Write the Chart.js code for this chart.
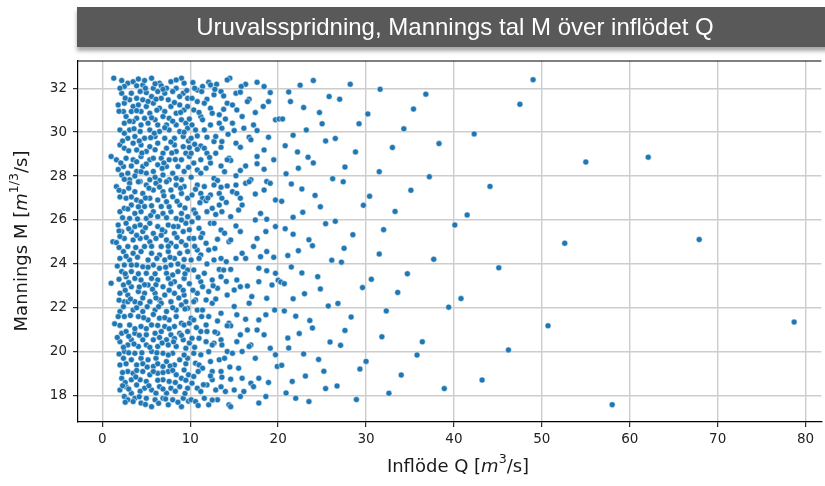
<!DOCTYPE html>
<html lang="sv">
<head>
    <meta charset="UTF-8">
    <title>Uruvalsspridning</title>
    <script src="https://cdn.jsdelivr.net/npm/chart.js"></script>
    <style>
        body { margin: 0; background: #fff; }
        .wrap { position: relative; width: 825px; height: 486px; overflow: hidden; }
        .banner { position: absolute; left: 77px; top: 7px; width: 756px; height: 40px; background: #595959; color: #fff;
                  font: 24px "Liberation Sans", Arial, sans-serif; line-height: 40px; text-align: center;
                  box-shadow: 0 4px 4px rgba(0,0,0,0.35); }
        canvas { position: absolute; left: 0; top: 0; }
    </style>
</head>
<body>
<div class="wrap">
    <canvas id="chart" width="825" height="486"></canvas>
    <div class="banner">Uruvalsspridning, Mannings tal M över inflödet Q</div>
</div>
<script>
// [Q, M] pairs, grouped by region
const ptsLowQTop = [[1.3,32.46],[2.9,32.23],[3.5,32.30],[4.6,32.15],[4.8,32.35],[5.6,32.46],[6.5,32.23],[6.7,32.11],[7.8,32.30],[9.0,32.46],[9.3,32.23],[2.5,32.08],[3.9,32.11],[5.8,32.00],[7.3,32.00],[8.4,32.00],
  [2.2,31.77],[3.3,31.77],[4.3,31.85],[5.0,31.80],[6.3,31.85],[7.1,31.77],[8.0,31.85],[9.2,31.77],[3.1,31.47],[3.9,31.54],[4.6,31.47],[5.6,31.62],[6.7,31.54],[7.5,31.47],[8.8,31.62],[9.7,31.54],
  [1.8,31.24],[2.5,31.32],[3.5,31.17],[4.1,31.24],[5.0,31.17],[5.8,31.32],[6.5,31.09],[7.8,31.17],[8.8,31.24],[9.3,31.01],[2.4,30.94],[3.3,30.94],[4.4,30.94],[5.4,30.86],[7.1,30.94],[8.4,30.86],[9.7,31.17],
  [2.7,30.71],[3.9,30.63],[4.8,30.63],[6.0,30.56],[6.9,30.71],[7.6,30.63],[9.0,30.56],[2.5,30.41],[3.5,30.48],[4.4,30.33],[5.2,30.41],[6.3,30.33],[7.3,30.33],[8.4,30.33],[9.5,30.41],
  [2.0,30.10],[3.1,30.10],[4.3,30.03],[5.4,30.10],[6.5,30.03],[7.6,30.10],[8.8,30.03],[9.7,30.18],[2.9,29.72],[3.7,29.80],[4.8,29.72],[6.0,29.80],[7.1,29.72],[8.2,29.72],[9.2,29.80],
  [2.0,29.42],[2.5,29.27],[3.5,29.50],[4.4,29.42],[5.4,29.34],[6.3,29.50],[7.3,29.27],[8.2,29.42],[9.2,29.34],[3.9,29.19],[5.0,29.12],[6.9,29.04],[8.4,29.12],[9.5,29.04],
  [1.0,28.89],[1.6,28.74],[2.7,28.81],[3.5,28.74],[4.4,28.89],[5.4,28.74],[5.8,28.81],[6.7,28.81],[7.6,28.74],[9.0,28.74],[9.9,28.89],[2.4,28.43],[3.3,28.46],[4.6,28.43],[6.3,28.51],[7.3,28.43],[8.6,28.43],
  [2.2,28.05],[2.9,28.13],[3.9,28.21],[5.0,28.13],[5.8,28.21],[6.9,28.05],[8.0,28.13],[9.3,28.21],[3.1,27.83],[4.3,27.75],[5.4,27.83],[6.5,27.80],[7.6,27.83],[9.0,27.83]];

const ptsLowQMid = [[1.6,27.52],[3.1,27.67],[4.1,27.74],[5.0,27.59],[6.1,27.67],[7.3,27.74],[8.4,27.59],[9.3,27.52],[2.4,27.29],[3.7,27.29],[4.6,27.21],[5.8,27.36],[6.9,27.29],[7.8,27.36],[9.0,27.21],
  [2.7,26.99],[3.9,26.91],[4.4,26.83],[5.4,26.99],[6.3,26.91],[7.3,26.83],[8.0,27.06],[9.7,26.99],[3.3,26.68],[4.8,26.61],[6.7,26.61],[8.8,26.68],
  [2.0,26.38],[2.5,26.53],[3.7,26.30],[4.4,26.38],[5.8,26.38],[6.9,26.30],[7.8,26.38],[9.0,26.30],[3.1,26.07],[5.0,26.07],[6.3,26.15],[8.4,26.07],[9.7,26.15],
  [1.8,25.77],[2.7,25.85],[3.7,25.70],[4.3,25.77],[5.4,25.85],[6.3,25.70],[7.5,25.77],[8.6,25.70],[9.5,25.85],[2.2,25.47],[3.3,25.47],[4.6,25.47],[5.8,25.39],[7.1,25.47],[8.2,25.39],[9.2,25.47],
  [1.2,25.01],[1.6,24.97],[2.5,25.16],[3.5,25.09],[4.3,25.16],[5.4,25.01],[6.1,25.16],[7.3,25.09],[7.8,24.94],[9.0,25.01],[9.9,25.16],[2.9,24.79],[4.8,24.79],[6.7,24.79],[8.4,24.79],
  [2.4,24.56],[3.5,24.48],[4.4,24.56],[5.6,24.48],[6.5,24.41],[7.5,24.56],[8.8,24.48],[9.7,24.56],[2.0,24.25],[3.1,24.18],[5.2,24.18],[7.1,24.18],[8.2,24.25],
  [2.5,23.95],[3.9,23.95],[4.6,23.87],[5.8,23.95],[6.5,23.80],[7.8,23.95],[9.2,23.87],[2.2,23.65],[3.3,23.65],[5.0,23.57],[7.3,23.57],[8.6,23.65],[9.7,23.72],
  [1.0,23.12],[2.7,23.42],[3.7,23.34],[4.4,23.27],[5.6,23.34],[6.3,23.27],[7.5,23.34],[8.2,23.19],[9.3,23.34],[2.4,23.04],[3.3,22.96],[5.2,23.04],[6.9,22.96],[8.8,22.96],
  [2.0,22.66],[2.9,22.58],[4.1,22.74],[4.8,22.66],[6.0,22.66],[7.1,22.58],[8.2,22.66],[9.3,22.58],[2.5,22.28],[3.7,22.28],[5.4,22.28],[6.5,22.36],[7.8,22.28],[9.5,22.28]];

const ptsLowQBottom = [[2.9,22.28],[4.3,22.21],[5.4,22.28],[6.7,22.21],[7.8,22.28],[9.0,22.13],[2.0,21.83],[3.5,21.90],[4.6,21.83],[6.0,21.90],[7.3,21.83],[8.4,21.90],[9.7,21.98],
  [1.4,21.27],[2.5,21.60],[4.1,21.60],[5.2,21.45],[5.6,21.22],[6.5,21.53],[7.6,21.45],[9.0,21.30],[9.3,21.22],[3.1,21.22],[4.4,21.15],[7.1,21.15],[8.2,21.15],
  [2.2,20.84],[2.7,20.92],[3.7,20.84],[5.0,20.77],[6.0,20.84],[6.7,20.92],[7.8,20.77],[8.8,20.84],[9.7,20.92],[3.3,20.54],[4.6,20.54],[5.8,20.54],[7.3,20.54],[9.2,20.54],
  [2.0,20.46],[2.9,20.31],[4.1,20.24],[5.0,20.31],[6.3,20.24],[7.5,20.31],[8.4,20.24],[9.5,20.16],[2.5,20.01],[3.7,19.93],[5.6,20.01],[6.9,19.93],[8.0,19.93],
  [2.4,19.70],[3.3,19.63],[4.4,19.70],[5.2,19.63],[6.1,19.70],[7.3,19.55],[8.8,19.63],[9.7,19.70],[2.0,19.40],[3.9,19.40],[5.8,19.33],[6.9,19.33],[8.2,19.40],
  [2.9,19.10],[3.5,19.02],[4.6,19.10],[5.4,18.95],[6.3,19.02],[7.5,19.10],[8.4,18.95],[9.3,19.17],[2.2,18.79],[3.3,18.72],[4.3,18.72],[6.9,18.72],[9.0,18.79],
  [2.0,18.26],[2.7,18.41],[3.9,18.49],[4.8,18.34],[5.6,18.26],[6.5,18.41],[7.8,18.34],[8.8,18.41],[9.7,18.34],[3.3,18.11],[6.1,18.11],[7.3,18.11],
  [2.5,17.96],[2.9,17.81],[3.7,17.88],[4.4,17.66],[5.0,17.88],[6.0,17.81],[6.9,17.88],[8.0,17.81],[9.2,17.88],[3.5,17.73],[5.6,17.50],[7.5,17.58],[9.0,17.50]];

// dots in the gaps of the packed band below Q = 10
const ptsLowQFill = [[2.2,32.35],[4.1,32.42],[8.4,32.38],[6.0,32.20],[2.0,32.00],[4.9,32.00],[6.9,31.95],[9.6,31.90],
  [2.6,31.55],[5.2,31.40],[6.1,31.50],[8.2,31.35],[1.9,30.95],[3.9,30.98],[6.2,31.00],[8.9,30.90],
  [3.1,30.50],[5.6,30.65],[8.0,30.50],[9.9,30.60],[2.5,29.95],[3.6,30.15],[5.9,29.95],[7.1,30.20],[9.3,30.00],
  [2.3,29.60],[4.2,29.60],[5.5,29.75],[7.8,29.55],[9.8,29.60],[3.0,29.15],[4.5,29.05],[6.0,29.20],[7.9,29.05],[9.9,29.30],
  [2.1,28.60],[3.9,28.65],[5.0,28.55],[7.0,28.60],[8.3,28.75],[1.8,28.30],[4.4,28.20],[6.8,28.35],[9.8,28.40],
  [2.5,27.85],[3.7,28.00],[6.0,27.95],[8.4,27.90],[1.9,27.35],[3.0,27.45],[5.3,27.45],[6.5,27.50],[8.9,27.45],
  [2.0,27.05],[3.3,27.05],[4.9,27.00],[7.0,27.10],[8.5,26.85],[2.9,26.50],[4.1,26.60],[5.6,26.65],[7.6,26.60],[9.4,26.55],
  [2.3,26.10],[4.0,26.05],[5.5,26.20],[7.3,26.10],[9.0,26.00],[1.9,25.50],[3.0,25.60],[4.9,25.65],[6.8,25.55],[8.1,25.70],[9.9,25.55],
  [2.0,25.25],[3.9,25.30],[5.0,25.20],[6.7,25.30],[8.5,25.20],[1.9,24.75],[3.8,24.75],[5.6,24.80],[7.5,24.80],[9.5,24.85],
  [2.7,24.35],[4.0,24.30],[6.2,24.25],[7.7,24.30],[9.3,24.20],[1.7,23.90],[3.3,23.95],[5.2,23.85],[7.2,23.85],[8.6,24.00],
  [2.6,23.55],[4.1,23.55],[6.0,23.55],[8.0,23.50],[9.4,23.55],[1.9,23.30],[3.0,23.15],[4.8,23.05],[6.1,23.05],[7.8,23.10],[9.9,23.10],
  [2.6,22.80],[4.2,22.95],[5.7,22.85],[7.6,22.80],[9.2,22.80],[1.9,22.35],[3.2,22.40],[4.6,22.45],[6.1,22.45],[8.7,22.45],
  [2.4,22.05],[3.9,22.00],[5.1,22.05],[6.4,22.05],[8.0,22.00],[9.4,21.95],[1.8,21.60],[3.2,21.65],[4.7,21.55],[5.8,21.70],[7.1,21.55],[8.4,21.60],
  [2.0,21.20],[3.7,21.05],[5.0,21.05],[6.3,21.20],[7.6,21.05],[9.9,21.30],[1.7,20.65],[3.0,20.70],[4.2,20.75],[6.5,20.65],[8.2,20.60],[9.0,20.75],
  [2.4,20.20],[3.6,20.35],[5.4,20.20],[6.8,20.40],[8.1,20.45],[9.9,20.40],[1.9,19.90],[3.0,19.95],[4.5,19.95],[6.2,19.95],[7.5,19.85],[9.3,19.85],
  [2.7,19.45],[4.6,19.45],[5.1,19.30],[6.3,19.45],[7.7,19.35],[9.5,19.45],[2.3,19.05],[3.9,19.15],[5.8,19.10],[6.9,19.05],[8.0,19.15],[9.8,18.95],
  [2.6,18.60],[3.8,18.85],[5.0,18.65],[6.3,18.70],[7.6,18.65],[8.3,18.60],[9.5,18.70],[2.3,18.45],[3.0,18.30],[4.3,18.20],[5.3,18.45],[6.9,18.30],[8.3,18.20],[9.4,18.10],
  [2.6,17.70],[4.2,17.95],[4.9,17.60],[6.4,17.65],[7.2,17.85],[8.6,17.70],[9.8,17.75]];

const ptsMidQTop = [[14.5,32.46],[14.2,32.38],[10.3,32.26],[12.1,32.27],[12.3,32.15],[13.0,32.18],[11.4,32.08],[10.8,31.92],[11.3,31.85],[16.3,32.18],[15.8,32.08],[17.6,32.27],[18.4,32.08],[15.2,31.77],[15.7,31.82],[19.1,31.80],
  [13.5,31.85],[12.7,31.70],[13.8,31.65],[10.2,31.54],[11.9,31.50],[16.7,31.50],[16.5,31.39],[18.9,31.39],[10.8,31.39],[11.6,31.32],[14.2,31.32],[14.8,31.24],[18.3,31.17],[10.4,31.01],[12.3,31.09],[13.8,31.04],
  [15.3,31.01],[17.4,30.89],[11.2,30.71],[11.4,30.56],[12.5,30.86],[13.3,30.79],[15.9,30.71],[19.7,30.56],[10.2,30.33],[12.3,30.33],[13.3,30.41],[14.8,30.41],[17.2,30.33],[13.6,30.18],[15.0,30.07],[17.6,30.07],
  [16.1,30.18],[11.6,30.10],[10.1,29.72],[10.8,29.83],[11.9,29.77],[12.7,29.57],[13.6,29.57],[16.7,29.77],[16.9,29.65],[18.9,29.77],[15.2,29.50],[15.7,29.31],[11.2,29.37],[10.8,29.22],[11.6,29.27],[13.5,29.31],
  [18.4,29.19],[10.1,29.04],[11.9,29.04],[12.9,29.04],[14.4,28.81],[14.6,28.71],[14.2,28.74],[17.6,28.89],[19.5,28.74],[10.4,28.59],[11.2,28.74],[12.3,28.59],[13.5,28.46],[16.3,28.46],[17.6,28.56],[15.7,28.25],
  [18.4,28.31],[10.8,28.28],[11.8,28.36],[11.2,28.13],[10.1,27.95],[12.7,27.90],[15.2,28.01],[16.9,27.83],[18.7,27.75],[13.1,27.80]];

const ptsMidQMid = [[10.8,27.59],[11.6,27.52],[12.7,27.59],[13.5,27.49],[14.2,27.55],[15.2,27.59],[16.3,27.67],[16.7,27.74],[19.1,27.67],[10.2,27.14],[11.2,27.21],[11.4,26.99],[11.1,26.79],[11.8,26.88],[12.3,27.14],
  [13.3,27.21],[13.6,26.99],[14.8,27.29],[15.3,27.21],[15.7,26.99],[17.4,27.18],[18.4,27.36],[19.7,26.91],[10.4,26.45],[10.6,26.30],[11.9,26.38],[12.5,26.53],[13.3,26.68],[13.6,26.38],[14.6,26.15],[15.5,26.45],
  [15.9,26.68],[18.0,26.30],[18.7,26.03],[10.2,25.92],[11.0,25.62],[11.4,25.39],[12.3,25.85],[12.7,25.85],[13.5,25.54],[15.2,25.73],[15.7,25.47],[17.4,26.00],[18.6,25.47],[19.7,25.70],[10.4,25.16],[10.8,24.63],
  [11.8,24.94],[12.1,24.63],[13.1,25.12],[14.4,25.01],[14.6,25.09],[17.6,25.16],[18.7,24.56],[17.2,24.79],[15.9,24.48],[15.2,24.25],[16.3,24.25],[11.2,24.41],[11.0,24.25],[12.7,24.18],[13.5,24.25],[10.1,24.18],
  [19.5,24.30],[18.0,24.33],[10.4,23.72],[11.6,23.57],[13.3,23.75],[13.8,23.72],[14.6,23.75],[17.8,23.80],[18.7,23.69],[19.7,23.57],[15.3,23.27],[15.7,22.96],[13.5,23.42],[12.5,23.27],[11.2,23.19],[11.4,22.96],
  [10.8,22.66],[12.1,22.74],[13.1,22.89],[15.0,22.81],[16.5,22.99],[17.8,23.19],[19.3,23.04],[10.6,22.36],[14.2,22.58],[17.0,22.51],[18.7,22.43],[11.8,22.36]];

const ptsMidQBottom = [[10.4,22.28],[12.5,22.21],[15.0,22.06],[16.7,22.21],[10.8,21.90],[11.4,21.90],[10.1,21.53],[10.4,21.45],[12.1,21.60],[13.5,21.75],[15.3,21.68],[16.3,21.48],[17.8,21.45],[18.6,21.68],[19.6,21.90],
  [11.8,21.22],[11.2,20.92],[11.9,20.92],[14.4,21.30],[14.6,21.18],[14.2,21.18],[13.1,20.84],[15.7,20.77],[16.5,20.99],[17.6,20.99],[18.4,20.77],[10.2,20.61],[11.0,20.61],[11.8,20.46],[12.7,20.39],[12.5,20.31],
  [13.5,20.54],[13.6,20.31],[15.3,20.46],[16.9,20.31],[16.7,20.24],[19.1,20.16],[10.4,19.93],[11.2,19.86],[12.3,19.55],[13.3,19.63],[14.2,20.01],[14.8,19.93],[15.9,20.01],[17.4,19.70],[19.7,19.86],[19.9,19.33],
  [10.6,19.48],[11.0,19.40],[11.4,19.25],[12.5,19.10],[13.5,19.10],[14.6,18.75],[13.6,18.84],[15.5,19.25],[15.9,18.79],[16.9,18.57],[17.2,18.41],[17.8,18.79],[18.9,18.60],[10.4,18.87],[10.2,18.57],[10.8,18.34],
  [11.2,18.19],[11.9,18.49],[12.5,18.72],[12.9,18.26],[15.0,18.26],[16.1,18.19],[14.0,18.19],[10.1,17.81],[11.6,17.88],[13.1,17.81],[14.4,17.58],[14.6,17.50],[15.7,17.96],[17.8,17.66],[18.6,17.96],[12.1,17.58],[10.6,17.73]];

const ptsMidQFill = [[10.5,32.00],[12.8,31.95],[11.0,30.90],[14.0,30.60],[10.6,30.10],[12.9,29.80],[14.3,29.90],[10.5,29.45],[12.2,28.85],[13.9,28.20],
  [10.6,27.40],[12.0,27.00],[14.1,26.80],[10.9,26.10],[12.9,26.25],[11.2,25.20],[13.9,25.40],[10.5,24.80],[12.8,24.70],[11.9,24.00],
  [14.1,24.10],[10.9,23.40],[12.6,23.00],[14.1,23.20],[10.3,22.80],[12.9,22.40],[11.3,21.60],[13.1,21.40],[10.7,21.10],[12.8,20.90],
  [10.5,20.20],[12.1,20.00],[13.9,19.70],[10.9,19.10],[12.3,18.90],[14.5,19.30],[11.5,18.50],[13.5,18.40],[12.5,17.80],[10.9,17.55]];

const ptsHighQ = [[24.0,32.35],[22.5,32.14],[28.2,32.18],[21.2,31.83],[25.8,31.62],[27.0,31.50],[21.4,31.39],[22.9,31.12],[24.7,30.89],[30.2,30.83],[20.1,30.60],[20.5,30.60],[25.0,30.38],[29.2,30.38],[23.2,30.10],
  [21.7,29.86],[25.4,29.60],[26.5,29.71],[20.8,29.38],[22.2,29.10],[28.8,29.10],[23.4,28.86],[24.0,28.60],[22.3,28.36],[27.6,28.41],[20.9,28.10],[26.2,27.88],[27.4,27.74],[21.5,27.64],[22.7,27.41],[24.2,27.12],
  [20.4,26.85],[30.4,27.08],[24.8,26.60],[29.7,26.67],[22.8,26.35],[21.7,26.12],[25.4,25.83],[26.5,25.94],[20.8,25.60],[28.5,25.33],[21.7,25.35],[23.5,25.10],[23.9,24.83],[27.5,24.71],[22.3,24.60],[21.1,24.38],
  [26.1,24.17],[27.2,24.08],[21.5,23.86],[22.7,23.59],[24.5,23.42],[30.6,23.30],[20.0,23.26],[20.3,23.17],[20.7,23.10],[29.6,22.92],[24.8,22.86],[23.0,22.64],[21.7,22.41],[26.8,22.20],[25.7,22.08],[20.7,21.86],
  [28.3,21.58],[22.0,21.62],[23.6,21.42],[23.9,21.08],[27.6,20.97],[22.4,20.83],[21.1,20.62],[25.9,20.44],[27.1,20.29],[21.2,20.17],[22.9,19.90],[24.6,19.65],[30.0,19.56],[20.4,19.38],[29.3,19.21],[25.2,19.11],
  [23.1,18.89],[21.6,18.65],[26.7,18.44],[25.4,18.32],[20.9,18.12],[22.0,17.88],[28.9,17.82],[23.5,17.73]];

const ptsFarQ = [[31.6,31.95],[36.8,31.73],[49.0,32.39],[35.4,31.05],[47.5,31.27],[34.3,30.15],[42.3,29.92],[33.0,29.30],[38.3,29.48],[55.0,28.64],[62.1,28.86],[31.5,28.20],[37.2,27.97],[35.1,27.35],
  [44.1,27.53],[33.3,26.39],[41.5,26.23],[40.1,25.77],[32.0,25.56],[52.6,24.94],[67.9,25.11],[31.5,24.45],[37.7,24.21],[45.1,23.82],[34.7,23.55],[33.6,22.70],[40.8,22.42],[39.4,22.03],[32.3,21.86],
  [50.7,21.18],[78.7,21.35],[31.8,20.68],[36.4,20.45],[46.2,20.08],[35.8,19.85],[34.0,18.94],[43.2,18.71],[38.9,18.32],[32.6,18.11],[58.0,17.59]];

const xTickValues = [0, 10, 20, 30, 40, 50, 60, 70, 80];
const yTickValues = [18, 20, 22, 24, 26, 28, 30, 32];

const allPoints = [].concat(ptsLowQTop, ptsLowQMid, ptsLowQBottom, ptsLowQFill, ptsMidQTop, ptsMidQMid, ptsMidQBottom, ptsMidQFill, ptsHighQ, ptsFarQ)
    .map(([q, m]) => ({ x: q, y: m }));

const tickFont = { family: 'DejaVu Sans', size: 13.5 };
const labelSize = 18;

// draws a label with italic m and superscript unit
function drawRich(ctx, parts, cx, cy, angle) {
    const fontFor = p => p.sup ? `${labelSize * 0.7}px "DejaVu Sans"`
        : (p.it ? `italic ${labelSize}px "DejaVu Sans"` : `${labelSize}px "DejaVu Sans"`);
    let total = 0;
    parts.forEach(p => { ctx.font = fontFor(p); p.w = ctx.measureText(p.t).width; total += p.w; });
    ctx.save();
    ctx.translate(cx, cy);
    ctx.rotate(angle);
    ctx.fillStyle = '#1a1a1a';
    ctx.textBaseline = 'middle';
    let x = -total / 2;
    parts.forEach(p => {
        ctx.font = fontFor(p);
        ctx.fillText(p.t, x, p.sup ? -labelSize * 0.38 : 0);
        x += p.w;
    });
    ctx.restore();
}

const extras = {
    id: 'extras',
    afterDraw(chart) {
        const { ctx, chartArea } = chart;
        ctx.save();
        ctx.strokeStyle = '#000';
        ctx.lineWidth = 1.2;
        ctx.beginPath();
        ctx.moveTo(chartArea.left, chartArea.top);
        ctx.lineTo(chartArea.right, chartArea.top);
        ctx.stroke();
        ctx.restore();
        drawRich(ctx, [{ t: 'Inflöde Q [' }, { t: 'm', it: true }, { t: '3', sup: true }, { t: '/s]' }], 458, 467, 0);
        drawRich(ctx, [{ t: 'Mannings M [' }, { t: 'm', it: true }, { t: '1/3', sup: true }, { t: '/s]' }], 22, 241, -Math.PI / 2);
    }
};

new Chart(document.getElementById('chart'), {
    type: 'scatter',
    data: {
        datasets: [{
            data: allPoints,
            backgroundColor: '#1f77b4',
            borderColor: 'rgba(255,255,255,0.85)',
            borderWidth: 0.6,
            pointRadius: 3.0,
            pointHoverRadius: 3.0
        }]
    },
    options: {
        responsive: false,
        animation: false,
        devicePixelRatio: 1,
        layout: { padding: { top: 61, left: 0, right: 0, bottom: 0 } },
        plugins: { legend: { display: false }, tooltip: { enabled: false } },
        scales: {
            x: {
                type: 'linear',
                min: -2.77,
                max: 81.8,
                afterBuildTicks: s => { s.ticks = xTickValues.map(v => ({ value: v })); },
                afterFit: s => { s.height = 64; s.paddingLeft = 0; s.paddingRight = 0; },
                ticks: { font: tickFont, color: '#222', padding: 4, maxRotation: 0, autoSkip: false },
                grid: { color: '#cdcdcd', lineWidth: 1.4, tickColor: '#000', tickLength: 5, tickWidth: 1 },
                border: { display: true, color: '#000', width: 1.2 }
            },
            y: {
                type: 'linear',
                min: 16.8,
                max: 33.24,
                afterBuildTicks: s => { s.ticks = yTickValues.map(v => ({ value: v })); },
                afterFit: s => { s.width = 78; s.paddingTop = 0; s.paddingBottom = 0; },
                ticks: { font: tickFont, color: '#222', padding: 6 },
                grid: { color: '#cdcdcd', lineWidth: 1.4, tickColor: '#000', tickLength: 5, tickWidth: 1 },
                border: { display: true, color: '#000', width: 1.2 }
            }
        }
    },
    plugins: [extras]
});
</script>
</body>
</html>
